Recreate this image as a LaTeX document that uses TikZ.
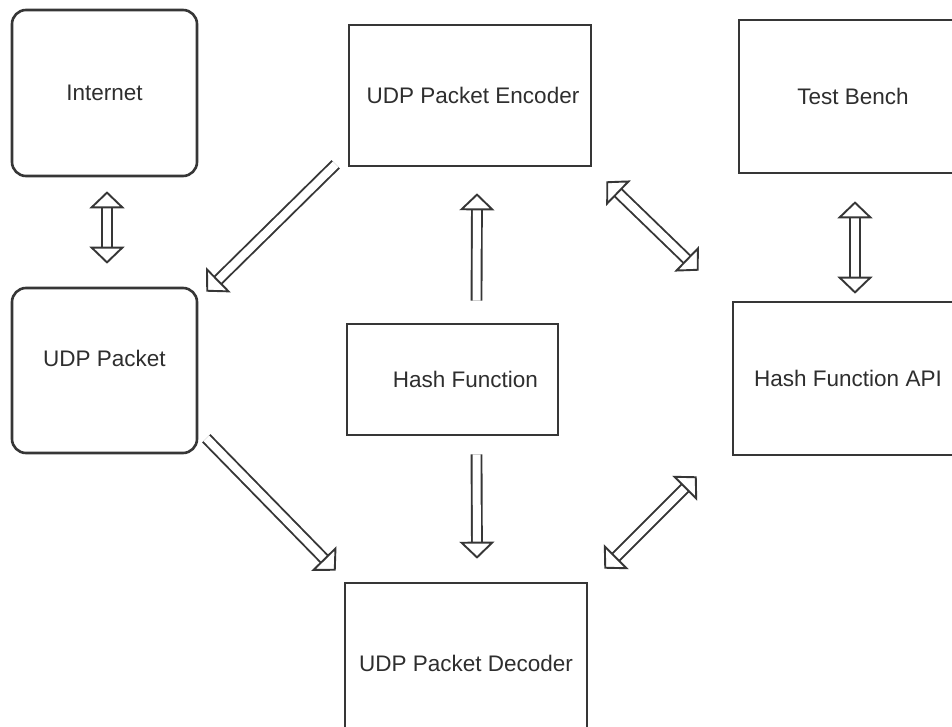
\documentclass[tikz,border=0pt]{standalone}
\usepackage{fontspec}
\setmainfont{Liberation Sans}
\usetikzlibrary{arrows.meta}
\definecolor{edge}{HTML}{363636}
\definecolor{ink}{HTML}{2E2E2E}

\begin{document}
\begin{tikzpicture}[x=1pt, y=-1pt,
        block/.style={draw=edge, line width=2.6pt, text=ink, font=\fontsize{22.5}{27}\selectfont, inner sep=0pt},
        soft/.style={block, rounded corners=14pt},
        flow/.style={draw=edge, line width=1.9pt, double=white, double distance=8pt,
            -{Triangle[open, length=17pt, width=35pt, line width=1.9pt]}},
        twoway/.style={flow, {Triangle[open, length=17pt, width=35pt, line width=1.9pt]}-{Triangle[open, length=17pt, width=35pt, line width=1.9pt]}}]
        \clip (0, 0) rectangle (952, 727);
        \fill[white] (0, 0) rectangle (952, 727);

        \node[soft, minimum width=185pt, minimum height=166pt] (inet) at (104.5, 93) {Internet};
        \node[soft, minimum width=185pt, minimum height=165pt, text depth=24pt] (udp) at (104.5, 370.5) {UDP Packet};
        \node[block, minimum width=242pt, minimum height=141pt] (enc) at (470, 95.5) {\hspace*{6pt}UDP Packet Encoder};
        \node[block, minimum width=228pt, minimum height=153pt] (bench) at (853, 96.5) {Test Bench};
        \node[block, minimum width=211pt, minimum height=111pt] (hash) at (452.5, 379.5) {\hspace*{26pt}Hash Function};
        \node[block, minimum width=230pt, minimum height=153pt] (api) at (848, 378.5) {Hash Function API};
        \node[block, minimum width=242pt, minimum height=160pt] (dec) at (466, 663) {UDP Packet Decoder};

        \draw[twoway] ([xshift=2.5pt, yshift=-14pt]inet.south) -- ([xshift=2.5pt, yshift=23pt]udp.north);
        \draw[flow] ([xshift=-12pt, yshift=3pt]enc.south west) -- ([xshift=8pt, yshift=-5pt]udp.north east);
        \draw[flow] ([xshift=24pt, yshift=22pt]hash.north) -- ([xshift=7pt, yshift=-26pt]enc.south);
        \draw[twoway] ([xshift=14pt, yshift=-14pt]enc.south east) -- ([xshift=-33pt, yshift=30pt]api.north west);
        \draw[twoway] ([xshift=2pt, yshift=-27pt]bench.south) -- ([xshift=7pt, yshift=7pt]api.north);
        \draw[flow] ([xshift=8pt, yshift=16pt]udp.south east) -- ([xshift=-8pt, yshift=11pt]dec.north west);
        \draw[flow] ([xshift=24pt, yshift=-18pt]hash.south) -- ([xshift=11pt, yshift=23pt]dec.north);
        \draw[twoway] ([xshift=16pt, yshift=13pt]dec.north east) -- ([xshift=-35pt, yshift=-20pt]api.south west);
\end{tikzpicture}
\end{document}
